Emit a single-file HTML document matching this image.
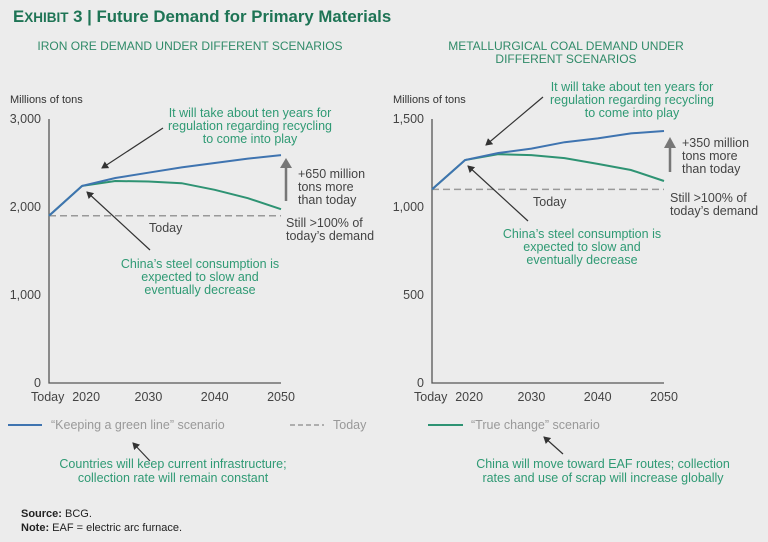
<!DOCTYPE html>
<html><head><meta charset="utf-8"><style>
body{margin:0;background:#ececec;}
svg{display:block;font-family:"Liberation Sans Narrow","Liberation Sans",sans-serif;}
</style></head><body>
<svg id="c" width="768" height="542" viewBox="0 0 768 542">
<defs>
<marker id="ah" markerWidth="8" markerHeight="8" refX="6" refY="4" orient="auto" markerUnits="userSpaceOnUse"><path d="M0,0 L7,4 L0,8 Z" fill="#333"/></marker>
</defs>
<rect width="768" height="542" fill="#ececec"/>
<text x="13" y="22" font-family="Liberation Sans, sans-serif" font-weight="bold" font-size="16.8" fill="#1e7455">E<tspan font-size="13.5">XHIBIT</tspan> 3 | Future Demand for Primary Materials</text>
<g font-family="Liberation Sans, sans-serif" font-size="12" fill="#2f8a68" text-anchor="middle">
<text x="190" y="50">IRON ORE DEMAND UNDER DIFFERENT SCENARIOS</text>
<text x="566" y="50">METALLURGICAL COAL DEMAND UNDER</text>
<text x="566" y="63">DIFFERENT SCENARIOS</text>
</g>
<g id="charts"></g>
<g font-size="12.5" fill="#2f9a74" text-anchor="middle">
<text x="250" y="117">It will take about ten years for<tspan x="250" dy="13">regulation regarding recycling</tspan><tspan x="250" dy="13">to come into play</tspan></text>
<text x="200" y="268">China’s steel consumption is<tspan x="200" dy="13">expected to slow and</tspan><tspan x="200" dy="13">eventually decrease</tspan></text>
<text x="632" y="91">It will take about ten years for<tspan x="632" dy="13">regulation regarding recycling</tspan><tspan x="632" dy="13">to come into play</tspan></text>
<text x="582" y="238">China’s steel consumption is<tspan x="582" dy="13">expected to slow and</tspan><tspan x="582" dy="13">eventually decrease</tspan></text>
<text x="173" y="468">Countries will keep current infrastructure;<tspan x="173" dy="14">collection rate will remain constant</tspan></text>
<text x="603" y="468">China will move toward EAF routes; collection<tspan x="603" dy="14">rates and use of scrap will increase globally</tspan></text>
</g>
<g font-size="12.5" fill="#444">
<text x="298" y="178">+650 million<tspan x="298" dy="13">tons more</tspan><tspan x="298" dy="13">than today</tspan></text>
<text x="286" y="227">Still &gt;100% of<tspan x="286" dy="13">today’s demand</tspan></text>
<text x="149" y="232">Today</text>
<text x="682" y="147">+350 million<tspan x="682" dy="13">tons more</tspan><tspan x="682" dy="13">than today</tspan></text>
<text x="670" y="202">Still &gt;100% of<tspan x="670" dy="13">today’s demand</tspan></text>
<text x="533" y="206">Today</text>
</g>
<g stroke="#333" stroke-width="1.2" marker-end="url(#ah)">
<line x1="163" y1="128" x2="102" y2="168"/>
<line x1="150" y1="250" x2="87" y2="192"/>
<line x1="543" y1="97" x2="486" y2="145"/>
<line x1="528" y1="221" x2="468" y2="166"/>
<line x1="150" y1="461" x2="133" y2="443"/>
<line x1="563" y1="454" x2="544" y2="437"/>
</g>
<g stroke="#777" stroke-width="2.5">
<line x1="286" y1="201" x2="286" y2="165"/>
<path d="M280,168 L286,158 L292,168 Z" fill="#777" stroke="none"/>
<line x1="670" y1="172" x2="670" y2="145"/>
<path d="M664,148 L670,137 L676,148 Z" fill="#777" stroke="none"/>
</g>
<g font-size="12.5">
<line x1="8" y1="425" x2="42" y2="425" stroke="#3f74b0" stroke-width="2"/>
<text x="51" y="429" fill="#999">“Keeping a green line” scenario</text>
<line x1="290" y1="425" x2="324" y2="425" stroke="#999" stroke-width="1.5" stroke-dasharray="5,3"/>
<text x="333" y="429" fill="#999">Today</text>
<line x1="428" y1="425" x2="463" y2="425" stroke="#2e9373" stroke-width="2"/>
<text x="471" y="429" fill="#999">“True change” scenario</text>
</g>
<g font-size="11" fill="#222">
<text x="21" y="517"><tspan font-weight="bold">Source:</tspan> BCG.</text>
<text x="21" y="531"><tspan font-weight="bold">Note:</tspan> EAF = electric arc furnace.</text>
</g>
</svg>
<script>
const years = [2015, 2020, 2025, 2030, 2035, 2040, 2045, 2050];
const xTicks = [2020, 2030, 2040, 2050];
const ironGreenLine = [1900, 2240, 2330, 2390, 2450, 2500, 2550, 2590];
const ironTrueChange = [1900, 2240, 2295, 2290, 2270, 2195, 2100, 1975];
const ironToday = 1900;
const ironTicks = [0, 1000, 2000, 3000];
const coalGreenLine = [1100, 1267, 1307, 1332, 1368, 1390, 1418, 1432];
const coalTrueChange = [1100, 1267, 1300, 1295, 1278, 1245, 1210, 1148];
const coalToday = 1100;
const coalTicks = [0, 500, 1000, 1500];

const NS = 'http://www.w3.org/2000/svg';
const root = document.getElementById('charts');
function mk(tag, attrs, parent){const e=document.createElementNS(NS,tag);for(const k in attrs)e.setAttribute(k,attrs[k]);(parent||root).appendChild(e);return e;}

function drawChart(prefix, x0, ymax, ticks, blue, green, today){
  const g = mk('g', {});
  
  
  const top = 119, bottom = 383, xEnd = x0 + 232;
  const xs = y => x0 + (y - 2015) / 35 * 232;
  const ys = v => bottom - v / ymax * (bottom - top);
  const fmt = v => v.toLocaleString('en-US');
  const yl = mk('text', {x: 10 + (x0 - 49), y: 103, 'font-size': 11, fill: '#333'}, g);
  yl.textContent = 'Millions of tons';
  
  
  const ax = mk('path', {d: `M${x0},${top} L${x0},${bottom} L${xEnd},${bottom}`, fill: 'none', stroke: '#555', 'stroke-width': 1.3}, g);
  
  
  ticks.forEach(t => {
    const tl = mk('text', {x: x0 - 8, y: ys(t) + 4, 'font-size': 12.5, fill: '#444', 'text-anchor': 'end'}, g);
    tl.textContent = fmt(t);
    
    
  });
  const td = mk('text', {x: x0 - 18, y: 401, 'font-size': 12.5, fill: '#444'}, g);
  td.textContent = 'Today';
  
  
  xTicks.forEach(t => {
    const tl = mk('text', {x: xs(t) + (t === 2020 ? 4 : 0), y: 401, 'font-size': 12.5, fill: '#444', 'text-anchor': 'middle'}, g);
    tl.textContent = t;
    
    
  });
  const dl = mk('line', {x1: x0, x2: xEnd, y1: ys(today), y2: ys(today), stroke: '#999', 'stroke-width': 1.5, 'stroke-dasharray': '7,4'}, g);
  
  
  const pts = arr => arr.map((v, i) => xs(years[i]).toFixed(1) + ',' + ys(v).toFixed(1)).join(' ');
  const gl = mk('polyline', {points: pts(green), fill: 'none', stroke: '#2e9373', 'stroke-width': 2}, g);
  
  
  const bl = mk('polyline', {points: pts(blue), fill: 'none', stroke: '#3f74b0', 'stroke-width': 2}, g);
  
  
}
drawChart('iron-ore', 49, 3000, ironTicks, ironGreenLine, ironTrueChange, ironToday);
drawChart('coal', 432, 1500, coalTicks, coalGreenLine, coalTrueChange, coalToday);
</script>
</body></html>
